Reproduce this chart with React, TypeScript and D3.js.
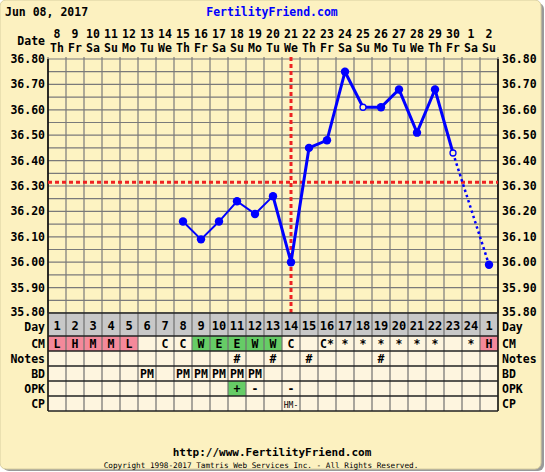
import React from "react";
import * as d3 from "d3";

const title = "Jun 08, 2017";
const site = "FertilityFriend.com";
const dates = ["8","9","10","11","12","13","14","15","16","17","18","19","20","21","22","23","24","25","26","27","28","29","30","1","2"];
const weekdays = ["Th","Fr","Sa","Su","Mo","Tu","We","Th","Fr","Sa","Su","Mo","Tu","We","Th","Fr","Sa","Su","Mo","Tu","We","Th","Fr","Sa","Su"];
const cycleDays = ["1","2","3","4","5","6","7","8","9","10","11","12","13","14","15","16","17","18","19","20","21","22","23","24","1"];
const temps: (number | null)[] = [null,null,null,null,null,null,null,36.16,36.09,36.16,36.24,36.19,36.26,36.00,36.45,36.48,36.75,36.61,36.61,36.68,36.51,36.68,36.43,null,35.99];
const discarded = [17, 22]; // indices with open markers
const thinSegment = [7, 12];
const thickSegment = [12, 22];
const dottedSegment = [22, 24];
const coverline = 36.315;
const ovulationIndex = 13;
const yTicks = [36.8,36.7,36.6,36.5,36.4,36.3,36.2,36.1,36.0,35.9,35.8];
const cm = ["L","H","M","M","L","","C","C","W","E","E","W","W","C","","C*","*","*","*","*","*","*","","*","H"];
const notes = ["","","","","","","","","","","#","","#","","#","","","","#","","","","","",""];
const bd = ["","","","","","PM","","PM","PM","PM","PM","PM","","","","","","","","","","","","",""];
const opk = ["","","","","","","","","","","+","-","","-","","","","","","","","","","",""];
const cp = ["","","","","","","","","","","","","","HM-","","","","","","","","","","",""];
const rowLabels = ["CM","Notes","BD","OPK","CP"];

const PINK = "#F4899A";
const GREEN = "#66CC66";
const FONT = "'DejaVu Sans Mono', monospace";

export default function App() {
  const left = 48, right = 498, top = 59, bottom = 313;
  const n = dates.length;
  const x = d3.scaleLinear().domain([0, n]).range([left, right]);
  const cx = (i: number) => x(i + 0.5);
  const y = d3.scaleLinear().domain([35.8, 36.8]).range([bottom, top]);
  const colW = x(1) - x(0);

  const hLines = d3.range(0, 21).map((k) => 35.8 + k * 0.05);
  const vLines = d3.range(0, n + 1);

  const seg = (a: number, b: number) =>
    d3.line<number>().x((i) => cx(i)).y((i) => y(temps[i] as number))(
      d3.range(a, b + 1).filter((i) => temps[i] != null)
    ) || "";

  const dayRowTop = 313, dayRowH = 23, rowH = 15;
  const rowsTop = dayRowTop + dayRowH;
  const rows = [cm, notes, bd, opk, cp];

  const cellBg = (r: number, i: number) => {
    if (r === 0) {
      const v = cm[i];
      if (["L", "H", "M"].includes(v)) return PINK;
      if (["W", "E"].includes(v)) return GREEN;
    }
    if (r === 3 && opk[i] === "+") return GREEN;
    return "#FEF5DF";
  };

  const tickBaseline = (v: number) => (v <= 35.8 ? y(v) + 2.5 : y(v) + 4);

  return (
    <svg width={545} height={472} style={{ position: "absolute", left: 0, top: 0 }} fontFamily={FONT}>
      <rect x={3} y={3} width={541} height={468} rx={6} fill="#9a9a9a" />
      <rect x={0} y={0} width={541} height={469} rx={6} fill="#FCF1C0" stroke="#d8cfa0" />
      <text x={5} y={16} fontSize={11.5} fontWeight="bold">{title}</text>
      <text x={272} y={16} fontSize={11.5} fontWeight="bold" fill="#0000FF" textAnchor="middle">{site}</text>
      <text x={45} y={45} fontSize={11.5} fontWeight="bold" textAnchor="end">Date</text>
      {dates.map((d, i) => (
        <g key={"d" + i}>
          <text x={cx(i)} y={38} fontSize={11.5} fontWeight="bold" textAnchor="middle">{d}</text>
          <text x={cx(i)} y={52} fontSize={11.5} fontWeight="bold" textAnchor="middle">{weekdays[i]}</text>
        </g>
      ))}
      <rect x={left} y={top} width={right - left} height={bottom - top} fill="#FDF3C2" />
      {hLines.map((v, k) => (
        <line key={"h" + k} x1={left} x2={right} y1={y(v)} y2={y(v)} stroke="#7a7a7a" strokeWidth={1.2} />
      ))}
      {vLines.map((i) => (
        <line key={"v" + i} x1={x(i)} x2={x(i)} y1={top - 2} y2={bottom} stroke="#7a7a7a" strokeWidth={1.2} />
      ))}
      <line x1={left} x2={left} y1={top} y2={bottom} stroke="#000" strokeWidth={1.5} />
      <line x1={right} x2={right} y1={top} y2={bottom} stroke="#000" strokeWidth={1.5} />
      {yTicks.map((v) => (
        <g key={"t" + v}>
          <text x={45} y={tickBaseline(v)} fontSize={11.5} fontWeight="bold" textAnchor="end">{v.toFixed(2)}</text>
          <text x={502} y={tickBaseline(v)} fontSize={11.5} fontWeight="bold">{v.toFixed(2)}</text>
        </g>
      ))}
      <line x1={left} x2={right} y1={y(coverline)} y2={y(coverline)} stroke="#EE2222" strokeWidth={3} strokeDasharray="4,3" />
      <line x1={cx(ovulationIndex)} x2={cx(ovulationIndex)} y1={top - 2} y2={bottom} stroke="#EE2222" strokeWidth={3} strokeDasharray="4,3" />
      <path d={seg(thinSegment[0], thinSegment[1])} fill="none" stroke="#0000FF" strokeWidth={2} />
      <path d={seg(thickSegment[0], thickSegment[1])} fill="none" stroke="#0000FF" strokeWidth={3} />
      <path d={seg(dottedSegment[0], dottedSegment[1])} fill="none" stroke="#0000FF" strokeWidth={2.5} strokeDasharray="2.5,3" />
      {temps.map((t, i) =>
        t == null ? null : discarded.includes(i) ? (
          <circle key={"p" + i} cx={cx(i)} cy={y(t)} r={3} fill="#FDF3C2" stroke="#0000FF" strokeWidth={1.3} />
        ) : (
          <circle key={"p" + i} cx={cx(i)} cy={y(t)} r={4.2} fill="#0000FF" />
        )
      )}
      {/* Day row */}
      <rect x={left} y={dayRowTop} width={right - left} height={dayRowH} fill="#C8C8C8" />
      <text x={45} y={330.5} fontSize={11.5} fontWeight="bold" textAnchor="end">Day</text>
      <text x={502} y={330.5} fontSize={11.5} fontWeight="bold">Day</text>
      {cycleDays.map((d, i) => (
        <text key={"cd" + i} x={cx(i)} y={329.5} fontSize={12} fontWeight="bold" textAnchor="middle">{d}</text>
      ))}
      {rows.map((row, r) => (
        <g key={"r" + r}>
          {row.map((v, i) => (
            <g key={"c" + i}>
              <rect x={x(i)} y={rowsTop + r * rowH} width={colW} height={rowH} fill={cellBg(r, i)} />
              {v && (
                <text x={cx(i)} y={rowsTop + r * rowH + 11.5} fontSize={r === 4 ? 8 : 11.5} fontWeight={r === 4 ? "normal" : "bold"} textAnchor="middle">{v}</text>
              )}
            </g>
          ))}
          <text x={45} y={rowsTop + r * rowH + 11.5} fontSize={11.5} fontWeight="bold" textAnchor="end">{rowLabels[r]}</text>
          <text x={502} y={rowsTop + r * rowH + 11.5} fontSize={11.5} fontWeight="bold">{rowLabels[r]}</text>
        </g>
      ))}
      {vLines.map((i) => (
        <line key={"tv" + i} x1={x(i)} x2={x(i)} y1={dayRowTop} y2={rowsTop + 5 * rowH} stroke={i === 0 || i === n ? "#000" : "#707070"} strokeWidth={i === 0 || i === n ? 1.5 : 1.2} />
      ))}
      {d3.range(0, 7).map((k) => {
        const yy = k === 0 ? dayRowTop : rowsTop + (k - 1) * rowH;
        return <line key={"th" + k} x1={left} x2={right} y1={yy} y2={yy} stroke="#222" strokeWidth={1.3} />;
      })}
      <text x={272} y={456} fontSize={11} fontWeight="bold" textAnchor="middle">http://www.FertilityFriend.com</text>
      <text x={261} y={468} fontSize={7.7} textAnchor="middle">Copyright 1998-2017 Tamtris Web Services Inc. - All Rights Reserved.</text>
    </svg>
  );
}
